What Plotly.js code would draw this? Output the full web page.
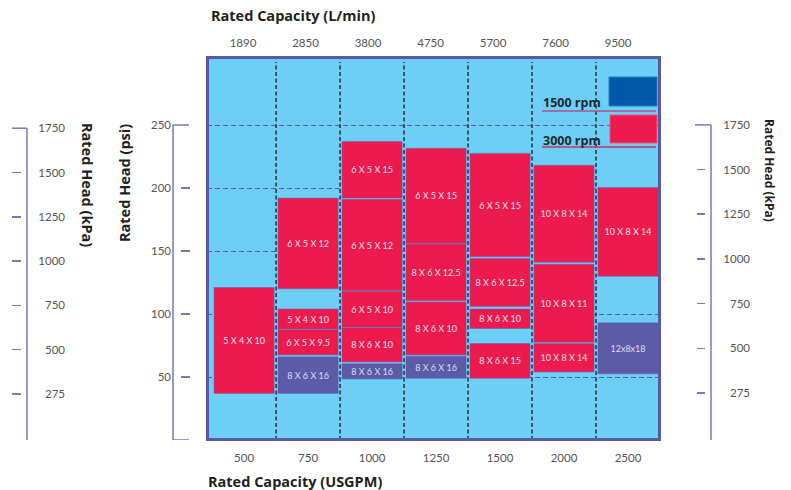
<!DOCTYPE html>
<html><head><meta charset="utf-8">
<script src="https://cdn.plot.ly/plotly-3.0.1.min.js"></script>
<style>html,body{margin:0;padding:0;background:#fff;}#chart{width:791px;height:490px;}</style>
</head><body><div id="chart"></div>
<script>
// ---- data ----
const usgpmLabels = ["500","750","1000","1250","1500","2000","2500"];
const lpmLabels = ["1890","2850","3800","4750","5700","7600","9500"];
const psiTicks = [50,100,150,200,250];
const kpaLabels = ["275","500","750","1000","1250","1500","1750"];

// 3000 rpm pumps (red)
const redCapacity = ["500","750","750","750","1000","1000","1000","1000","1250","1250","1250","1500","1500","1500","1500","2000","2000","2000","2500"];
const redModel = ["5 X 4 X 10","6 X 5 X 12","5 X 4 X 10","6 X 5 X 9.5","6 X 5 X 15","6 X 5 X 12","6 X 5 X 10","8 X 6 X 10","6 X 5 X 15","8 X 6 X 12.5","8 X 6 X 10","6 X 5 X 15","8 X 6 X 12.5","8 X 6 X 10","8 X 6 X 15","10 X 8 X 14","10 X 8 X 11","10 X 8 X 14","10 X 8 X 14"];
const redLow  = [37,120,88,67.5,192,118.5,89.5,62,156,110.5,67.5,145.5,106,88.5,49,141,77.5,54,130];
const redHigh = [121,192,104,87.5,237,191,118,89,231.5,155.5,109.5,227.5,144,104,76.5,218,139.5,76.5,200.5];

// other pumps (purple)
const purpleCapacity = ["750","1000","1250","2500"];
const purpleModel = ["8 X 6 X 16","8 X 6 X 16","8 X 6 X 16","12x8x18"];
const purpleLow  = [37,48.5,49,52.5];
const purpleHigh = [66,60.5,66.5,93];

const legendLabels = ["1500 rpm","3000 rpm"];

// ---- helpers ----
const W = 791, H = 490;
const px = v => v / W;
const py = v => 1 - v / H;

const RED = "#ec1a4d", PURPLE = "#5c5ba7", BLUE = "#0058a8";
const BG = "#6dcff6", FRAME = "#5a58a8", BRACKET = "#7a77bb";
const SANS = "'Open Sans', Lato, sans-serif";

function barTrace(cap, model, lo, hi, color, txtColor) {
  return {
    type: "bar", x: cap, base: lo, y: hi.map((h, i) => h - lo[i]),
    text: model, textposition: "inside", insidetextanchor: "middle",
    textangle: 0, constraintext: "none",
    textfont: {family: "Lato, 'Open Sans', sans-serif", size: 9, color: txtColor},
    width: 0.94,
    marker: {color: color, line: {color: "rgba(110,100,190,0.55)", width: 1}},
    hoverinfo: "skip", showlegend: false, xaxis: "x", yaxis: "y"
  };
}
function dummy(ya) {
  return {type: "scatter", mode: "markers", x: [usgpmLabels[0]], y: [null], yaxis: ya, xaxis: "x", hoverinfo: "skip", showlegend: false};
}

const data = [
  barTrace(redCapacity, redModel, redLow, redHigh, RED, "#fde2ea"),
  barTrace(purpleCapacity, purpleModel, purpleLow, purpleHigh, PURPLE, "#dcdcf2"),
  {type: "scatter", mode: "markers", x: lpmLabels, y: lpmLabels.map(() => null), xaxis: "x2", yaxis: "y2", hoverinfo: "skip", showlegend: false},
  dummy("y2"), dummy("y3"), dummy("y4"), dummy("y5"), dummy("y6")
];

const tickFont = {family: "Lato, 'Open Sans', sans-serif", size: 11.5, color: "#555"};
const yDomain = [py(440), py(57)];
const kLeftRange = [-1.038, 7.607];
const kRightRange = [-1.051, 7.517];
const idx = kpaLabels.map((_, i) => i);

const shapes = [];
// column separators
for (let i = 0; i < usgpmLabels.length - 1; i++) {
  shapes.push({type: "line", xref: "x", yref: "paper", x0: i + 0.5, x1: i + 0.5, y0: py(440), y1: py(62),
    line: {color: "#263340", width: 1.5, dash: "4px,2.5px"}, layer: "above"});
}
// frame
shapes.push({type: "rect", xref: "paper", yref: "paper", x0: px(207.5), x1: px(659.5), y0: py(439.5), y1: py(57.5),
  line: {color: FRAME, width: 3}, fillcolor: "rgba(0,0,0,0)", layer: "above"});
// psi bracket
const psiMax = psiTicks[psiTicks.length - 1];
shapes.push({type: "line", xref: "paper", yref: "y", x0: px(173), x1: px(173), y0: 0, y1: psiMax, line: {color: BRACKET, width: 1.5}});
shapes.push({type: "line", xref: "paper", yref: "y", x0: px(173), x1: px(189), y0: psiMax, y1: psiMax, line: {color: BRACKET, width: 1.5}});
shapes.push({type: "line", xref: "paper", yref: "y", x0: px(173), x1: px(189), y0: 0, y1: 0, line: {color: BRACKET, width: 1.5}});
// left kPa bracket
const kTop = kpaLabels.length - 1;
shapes.push({type: "line", xref: "paper", yref: "y3", x0: px(27), x1: px(27), y0: -1.1, y1: kTop, line: {color: BRACKET, width: 1.5}});
shapes.push({type: "line", xref: "paper", yref: "y3", x0: px(12), x1: px(27), y0: kTop, y1: kTop, line: {color: BRACKET, width: 1.5}});
shapes.push({type: "line", xref: "paper", yref: "y3", x0: px(12), x1: px(27), y0: -1.1, y1: -1.1, line: {color: BRACKET, width: 1.5}});
// right kPa bracket
shapes.push({type: "line", xref: "paper", yref: "y5", x0: px(711), x1: px(711), y0: -1.1, y1: kTop, line: {color: BRACKET, width: 1.5}});
shapes.push({type: "line", xref: "paper", yref: "y5", x0: px(695), x1: px(711), y0: kTop, y1: kTop, line: {color: BRACKET, width: 1.5}});
shapes.push({type: "line", xref: "paper", yref: "y5", x0: px(695), x1: px(711), y0: -1.1, y1: -1.1, line: {color: BRACKET, width: 1.5}});
// legend swatches + underlines
shapes.push({type: "rect", xref: "paper", yref: "paper", x0: px(609), x1: px(657), y0: py(106), y1: py(77), fillcolor: BLUE, line: {color: "#2a78c0", width: 1}, layer: "above"});
shapes.push({type: "rect", xref: "paper", yref: "paper", x0: px(610), x1: px(657), y0: py(143), y1: py(115), fillcolor: RED, line: {color: "#f0507a", width: 1}, layer: "above"});
shapes.push({type: "line", xref: "paper", yref: "paper", x0: px(542), x1: px(656), y0: py(111), y1: py(111), line: {color: "#b0508c", width: 1.5}, layer: "above"});
shapes.push({type: "line", xref: "paper", yref: "paper", x0: px(542), x1: px(656), y0: py(147), y1: py(147), line: {color: "#c8305e", width: 1.5}, layer: "above"});

const titleFont = {family: SANS, size: 14.5, color: "#231f20"};
const annotations = [
  {text: "<b>Rated Capacity (L/min)</b>", xref: "paper", yref: "paper", x: px(209), y: py(15), xanchor: "left", yanchor: "middle", showarrow: false, font: titleFont},
  {text: "<b>Rated Capacity (USGPM)</b>", xref: "paper", yref: "paper", x: px(206), y: py(481), xanchor: "left", yanchor: "middle", showarrow: false, font: titleFont},
  {text: "<b>Rated Head (psi)</b>", xref: "paper", yref: "paper", x: px(124), y: py(183), textangle: -90, xanchor: "center", yanchor: "middle", showarrow: false, font: titleFont},
  {text: "<b>Rated Head (kPa)</b>", xref: "paper", yref: "paper", x: px(88), y: py(185), textangle: 90, xanchor: "center", yanchor: "middle", showarrow: false, font: titleFont},
  {text: "<b>Rated Head (kPa)</b>", xref: "paper", yref: "paper", x: px(769), y: py(170), textangle: 90, xanchor: "center", yanchor: "middle", showarrow: false, font: {family: SANS, size: 12, color: "#231f20"}},
  {text: "<b>" + legendLabels[0] + "</b>", xref: "paper", yref: "paper", x: px(541), y: py(103), xanchor: "left", yanchor: "middle", showarrow: false, font: {family: SANS, size: 12.5, color: "#1f2a30"}},
  {text: "<b>" + legendLabels[1] + "</b>", xref: "paper", yref: "paper", x: px(541), y: py(140), xanchor: "left", yanchor: "middle", showarrow: false, font: {family: SANS, size: 12.5, color: "#1f2a30"}}
];

const baseY = {overlaying: "y", anchor: "free", range: [0, 304], showgrid: false, zeroline: false, showline: false};

const layout = {
  width: W, height: H, margin: {l: 0, r: 0, t: 0, b: 0},
  paper_bgcolor: "#ffffff", plot_bgcolor: BG,
  barmode: "overlay", bargap: 0, showlegend: false,
  xaxis: {domain: [px(207), px(660)], type: "category", categoryorder: "array", categoryarray: usgpmLabels,
    range: [-0.58, 6.5], anchor: "y", side: "bottom", ticks: "", showgrid: false, zeroline: false, showline: false,
    tickfont: tickFont, ticklabelstandoff: 9},
  xaxis2: {overlaying: "x", type: "category", categoryorder: "array", categoryarray: lpmLabels,
    range: [-0.576, 6.67], anchor: "y", side: "top", ticks: "", showgrid: false, zeroline: false, showline: false,
    tickfont: tickFont, ticklabelstandoff: 7},
  yaxis: {domain: yDomain, range: [0, 304], anchor: "free", position: px(173), side: "left",
    tickmode: "array", tickvals: psiTicks, ticks: "", showline: false, zeroline: false,
    showgrid: true, gridcolor: "#6a55b0", griddash: "5px,3px", gridwidth: 1, tickfont: tickFont, ticklabelstandoff: 2},
  yaxis2: Object.assign({}, baseY, {position: px(180), side: "right", tickmode: "array", tickvals: psiTicks.slice(0, -1),
    ticks: "outside", ticklen: 9, tickwidth: 1.5, tickcolor: BRACKET, showticklabels: false}),
  yaxis3: Object.assign({}, baseY, {range: kLeftRange, position: px(65), side: "left", tickmode: "array", tickvals: idx,
    ticktext: kpaLabels, ticks: "", tickfont: tickFont, ticklabelstandoff: 0}),
  yaxis4: Object.assign({}, baseY, {range: kLeftRange, position: px(21), side: "left", tickmode: "array", tickvals: idx.slice(0, -1),
    ticks: "outside", ticklen: 9, tickwidth: 1.5, tickcolor: BRACKET, showticklabels: false}),
  yaxis5: Object.assign({}, baseY, {range: kRightRange, position: px(750), side: "left", tickmode: "array", tickvals: idx,
    ticktext: kpaLabels, ticks: "", tickfont: tickFont, ticklabelstandoff: 0}),
  yaxis6: Object.assign({}, baseY, {range: kRightRange, position: px(705), side: "left", tickmode: "array", tickvals: idx.slice(0, -1),
    ticks: "outside", ticklen: 8, tickwidth: 1.5, tickcolor: BRACKET, showticklabels: false}),
  shapes: shapes, annotations: annotations
};

Plotly.newPlot("chart", data, layout, {staticPlot: true, displayModeBar: false});
</script></body></html>
